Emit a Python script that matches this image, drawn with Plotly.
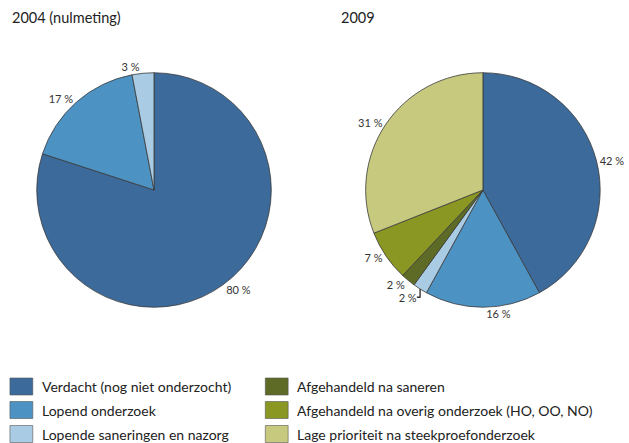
import plotly.graph_objects as go

categories = [
    "Verdacht (nog niet onderzocht)",
    "Lopend onderzoek",
    "Lopende saneringen en nazorg",
    "Afgehandeld na saneren",
    "Afgehandeld na overig onderzoek (HO, OO, NO)",
    "Lage prioriteit na steekproefonderzoek",
]
colors = ["#3B6A9B", "#4C92C3", "#A9CBE3", "#5D6B26", "#8A9823", "#C6C97E"]

cats_2004 = categories[:3]
vals_2004 = [80, 17, 3]
vals_2009 = [42, 16, 2, 2, 7, 31]

titles = ["2004 (nulmeting)", "2009"]

W, H = 629, 443
FONT = "Lato, Open Sans, sans-serif"

fig = go.Figure()

def px_x(x):
    return x / W

def px_y(y):
    return 1 - y / H

fig.add_trace(go.Pie(
    labels=cats_2004, values=vals_2004,
    marker=dict(colors=colors[:3], line=dict(color="#3a3a3a", width=0.8)),
    sort=False, direction="clockwise", rotation=0,
    textposition="outside", texttemplate="%{value} %",
    textfont=dict(size=11, color="#333333", family=FONT),
    domain=dict(x=[px_x(37), px_x(273)], y=[px_y(308), px_y(72)]),
    showlegend=False, hoverinfo="label+value",
))
fig.add_trace(go.Pie(
    labels=categories, values=vals_2009,
    marker=dict(colors=colors, line=dict(color="#3a3a3a", width=0.8)),
    sort=False, direction="clockwise", rotation=0,
    textposition="outside", texttemplate="%{value} %",
    textfont=dict(size=11, color="#333333", family=FONT),
    domain=dict(x=[px_x(368), px_x(604)], y=[px_y(308), px_y(72)]),
    showlegend=False, hoverinfo="label+value",
))

annotations = []
annotations.append(dict(x=px_x(10), y=px_y(18), xref="paper", yref="paper",
                        text=titles[0], showarrow=False, xanchor="left", yanchor="middle",
                        font=dict(size=14.5, color="#222222", family=FONT)))
annotations.append(dict(x=px_x(341), y=px_y(18), xref="paper", yref="paper",
                        text=titles[1], showarrow=False, xanchor="left", yanchor="middle",
                        font=dict(size=14.5, color="#222222", family=FONT)))

shapes = []
col_x = [10, 267]
row_y = [386.5, 410, 434]
for i, (cat, col) in enumerate(zip(categories, colors)):
    c, r = divmod(i, 3)
    x0 = col_x[c]
    yc = row_y[r]
    shapes.append(dict(type="rect", xref="paper", yref="paper",
                       x0=px_x(x0), x1=px_x(x0 + 23), y0=px_y(yc + 8.5), y1=px_y(yc - 8.5),
                       fillcolor=col, line=dict(color="#555555", width=0.6)))
    annotations.append(dict(x=px_x(x0 + 30), y=px_y(yc), xref="paper", yref="paper",
                            text=cat, showarrow=False, xanchor="left", yanchor="middle",
                            font=dict(size=14, color="#222222", family=FONT)))

fig.update_layout(
    width=W, height=H,
    margin=dict(l=0, r=0, t=0, b=0),
    paper_bgcolor="white", plot_bgcolor="white",
    annotations=annotations, shapes=shapes,
    showlegend=False,
)

fig.write_html("out.html")
